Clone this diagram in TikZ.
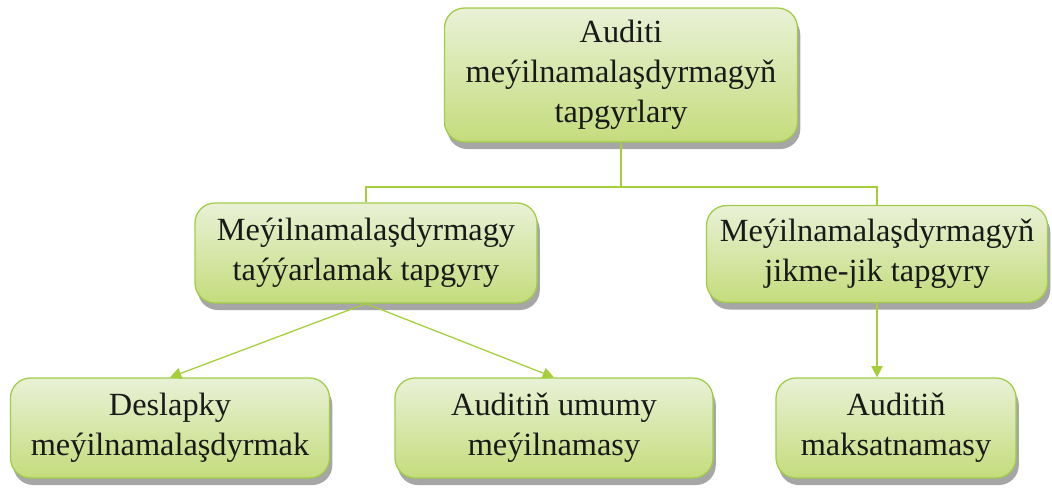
\documentclass[tikz,border=0pt]{standalone}
\usepackage{fontspec}
\setmainfont{Liberation Serif}
\usepackage{tikz}
\usetikzlibrary{positioning, arrows.meta, shadows}
\definecolor{boxtop}{RGB}{233,241,214}
\definecolor{boxbot}{RGB}{196,220,124}
\definecolor{boxline}{RGB}{160,204,72}
\definecolor{linkline}{RGB}{164,206,58}

\tikzset{
    stage/.style={draw=boxline, line width=0.9pt, rounded corners=0.5cm,
        top color=boxtop, bottom color=boxbot, align=center,
        font=\fontsize{23}{28.5}\selectfont, text=black!90,
        drop shadow={shadow xshift=2pt, shadow yshift=-5pt, fill=black, opacity=0.35}},
    link/.style={draw=linkline, line width=0.9pt},
    arr/.style={link, -{Triangle[length=8pt,width=8pt,fill=linkline]}}
}

\begin{document}
\begin{tikzpicture}
        \useasboundingbox (0,0) rectangle (26.3,-12.175);
        \node[stage, minimum width=8.825cm, minimum height=3.35cm] (top) at (15.525,-1.875)
            {Auditi\\meýilnamalaşdyrmagyň\\tapgyrlary};
        \node[stage, minimum width=8.55cm, minimum height=2.5cm] (prep) at (9.15,-6.325)
            {Meýilnamalaşdyrmagy\\taýýarlamak tapgyry};
        \node[stage, minimum width=8.525cm, minimum height=2.425cm] (detail) at (21.925,-6.35)
            {Meýilnamalaşdyrmagyň\\jikme-jik tapgyry};
        \node[stage, minimum width=7.975cm, minimum height=2.5cm] (draft) at (4.25,-10.7)
            {Deslapky\\meýilnamalaşdyrmak};
        \node[stage, minimum width=7.95cm, minimum height=2.5cm] (general) at (13.85,-10.7)
            {Auditiň umumy\\meýilnamasy};
        \node[stage, minimum width=6cm, minimum height=2.5cm] (programme) at (22.4,-10.7)
            {Auditiň\\maksatnamasy};
        \coordinate (split) at (15.525,-4.675);
        \draw[link] (top.south) -- (split) -| (prep.north);
        \draw[link] (split) -| (detail.north);
        \draw[arr] (prep.south) -- (draft.north);
        \draw[arr] (prep.south) -- (general.north);
        \draw[arr] (detail.south) -- (detail.south |- programme.north);
    \end{tikzpicture}
\end{document}
